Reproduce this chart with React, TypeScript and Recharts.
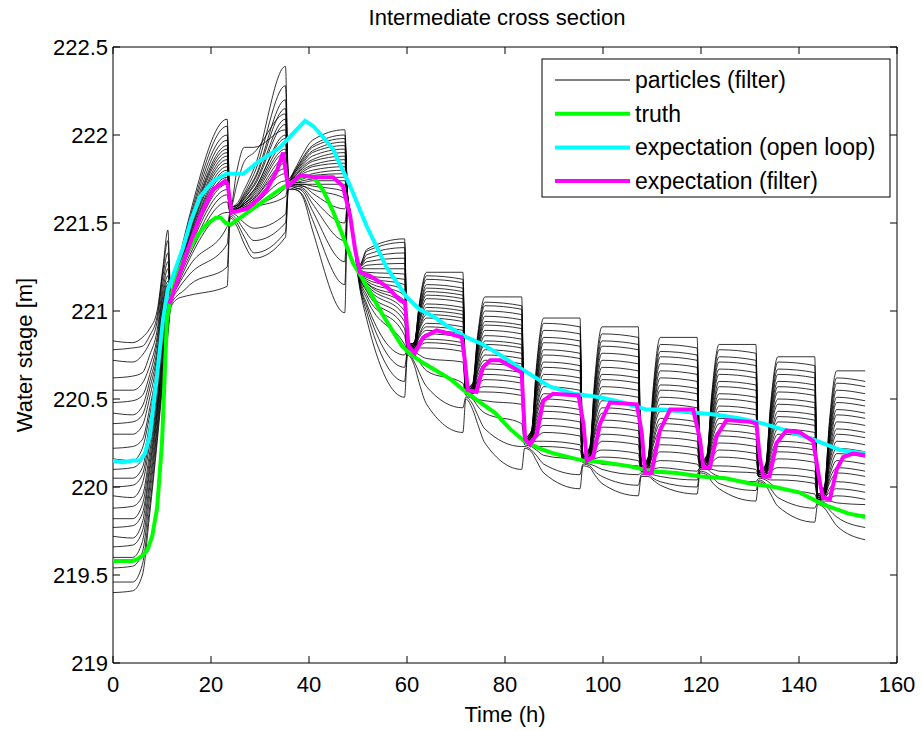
import React from "react";
import { LineChart, Line, XAxis, YAxis, ReferenceArea } from "recharts";

// plot box (px) inside the 922x730 chart
const L = 113;
const R = 897;
const T = 47;
const B = 663;
const FONT = '"Liberation Sans Narrow", "Arial Narrow", "Liberation Sans", Arial, sans-serif';

const xTicks = [0, 20, 40, 60, 80, 100, 120, 140, 160];
const yTicks = [219, 219.5, 220, 220.5, 221, 221.5, 222, 222.5];

// truth
const truthT = [0, 2, 4, 5, 6, 7, 8, 9, 10, 10.5, 11, 12, 13, 15, 17, 19, 21, 22, 23, 24, 25, 28, 31, 34, 37, 39, 41, 43, 45, 47, 49, 51, 53, 55, 57, 59, 61, 63, 66, 69, 72, 75, 78, 81, 84, 87, 90, 93, 96, 100, 105, 110, 115, 120, 125, 130, 135, 140, 145, 150, 153.5];
const truthV = [219.58, 219.58, 219.58, 219.59, 219.61, 219.64, 219.72, 219.88, 220.25, 220.6, 220.95, 221.1, 221.2, 221.33, 221.42, 221.49, 221.53, 221.53, 221.5, 221.49, 221.51, 221.57, 221.63, 221.69, 221.74, 221.77, 221.76, 221.68, 221.56, 221.42, 221.27, 221.18, 221.08, 220.98, 220.89, 220.8, 220.75, 220.71, 220.66, 220.61, 220.54, 220.48, 220.42, 220.33, 220.26, 220.22, 220.19, 220.17, 220.15, 220.14, 220.12, 220.09, 220.08, 220.06, 220.05, 220.02, 220.0, 219.97, 219.9, 219.85, 219.83];

// expectation (open loop)
const openT = [0, 2, 4, 5.5, 6.5, 7.5, 8.9, 10.2, 11.2, 12, 14.3, 16, 17.8, 20.5, 23.2, 26.6, 29.3, 32, 34.1, 36.8, 39.2, 40.9, 42.5, 44.9, 48.4, 51.8, 55.8, 59.9, 62.5, 65.3, 68.5, 72.2, 75.5, 79, 84, 89.2, 94, 99.4, 104, 108.9, 112, 116.3, 119.5, 123.2, 128, 132.7, 137.5, 142.9, 148.4, 153.5];
const openV = [220.15, 220.14, 220.15, 220.15, 220.19, 220.29, 220.61, 220.95, 221.12, 221.18, 221.36, 221.52, 221.65, 221.74, 221.78, 221.78, 221.84, 221.89, 221.93, 222.01, 222.08, 222.05, 222.0, 221.92, 221.71, 221.48, 221.25, 221.08, 221.01, 220.97, 220.91, 220.85, 220.81, 220.75, 220.66, 220.57, 220.53, 220.51, 220.48, 220.44, 220.44, 220.43, 220.42, 220.41, 220.39, 220.36, 220.32, 220.27, 220.21, 220.19];

// expectation (filter)
const filtT = [11.5, 12, 13.2, 15, 17.8, 20.4, 22.9, 23.4, 24.2, 27.3, 29.5, 31.4, 33.5, 34.7, 35.7, 38.2, 41.6, 44.9, 46.9, 48.4, 49.4, 50.4, 52.4, 55.8, 58.6, 59.6, 60.3, 61.6, 63.3, 66, 68.8, 71.2, 71.8, 72.4, 74.2, 75.5, 77, 79, 83.4, 84.1, 85.1, 86.5, 87.8, 89.8, 95, 96, 96.7, 98, 99.4, 101.4, 106.9, 107.9, 108.6, 109.9, 111.6, 113.7, 118.4, 119.8, 120.5, 121.8, 123.2, 125.2, 130, 131.3, 132, 132.7, 134, 135.4, 137.4, 140.2, 142.9, 144.3, 144.9, 146.3, 147.7, 149, 151, 153.5];
const filtV = [221.04, 221.08, 221.18, 221.33, 221.54, 221.69, 221.74, 221.72, 221.56, 221.58, 221.63, 221.69, 221.8, 221.9, 221.71, 221.77, 221.76, 221.76, 221.71, 221.54, 221.35, 221.22, 221.2, 221.14, 221.06, 221.05, 220.8, 220.76, 220.85, 220.89, 220.87, 220.85, 220.72, 220.55, 220.54, 220.68, 220.72, 220.72, 220.65, 220.27, 220.24, 220.3, 220.49, 220.53, 220.52, 220.36, 220.15, 220.17, 220.36, 220.48, 220.47, 220.31, 220.08, 220.08, 220.32, 220.44, 220.44, 220.27, 220.11, 220.11, 220.29, 220.38, 220.37, 220.36, 220.17, 220.06, 220.06, 220.25, 220.32, 220.31, 220.26, 220.02, 219.94, 219.93, 220.1, 220.17, 220.19, 220.18];

// particles (filter): one row per time, 24 particles per row, one block per assimilation window
const seg0T = [0, 4, 6, 7.5, 9, 10.2, 11.2];
const seg0 = [
  [220.83, 220.78, 220.72, 220.62, 220.55, 220.48, 220.42, 220.36, 220.30, 220.22, 220.16, 220.10, 220.05, 220.00, 219.95, 219.88, 219.82, 219.77, 219.72, 219.66, 219.60, 219.54, 219.46, 219.40],
  [220.82, 220.79, 220.71, 220.63, 220.55, 220.49, 220.41, 220.37, 220.30, 220.23, 220.15, 220.11, 220.05, 220.01, 219.94, 219.89, 219.82, 219.78, 219.71, 219.67, 219.60, 219.55, 219.46, 219.41],
  [220.85, 220.80, 220.75, 220.65, 220.59, 220.52, 220.46, 220.41, 220.35, 220.27, 220.22, 220.16, 220.11, 220.07, 220.02, 219.95, 219.90, 219.85, 219.80, 219.75, 219.69, 219.63, 219.56, 219.50],
  [220.90, 220.86, 220.82, 220.75, 220.69, 220.64, 220.60, 220.56, 220.51, 220.45, 220.41, 220.36, 220.33, 220.29, 220.25, 220.20, 220.16, 220.12, 220.09, 220.04, 220.00, 219.95, 219.89, 219.85],
  [221.00, 220.97, 220.94, 220.89, 220.85, 220.82, 220.78, 220.75, 220.72, 220.68, 220.65, 220.62, 220.59, 220.56, 220.54, 220.50, 220.47, 220.44, 220.42, 220.39, 220.35, 220.32, 220.28, 220.25],
  [221.25, 221.23, 221.20, 221.16, 221.12, 221.09, 221.06, 221.04, 221.01, 220.97, 220.95, 220.92, 220.90, 220.87, 220.85, 220.82, 220.79, 220.77, 220.75, 220.72, 220.69, 220.66, 220.63, 220.60],
  [221.46, 221.40, 221.33, 221.28, 221.24, 221.20, 221.17, 221.15, 221.13, 221.11, 221.09, 221.07, 221.06, 221.05, 221.04, 221.03, 221.02, 221.00, 220.98, 220.96, 220.94, 220.92, 220.89, 220.86],
];
const seg1T = [11.8, 13.2, 14.2, 15.7, 23.3];
const seg1 = [
  [221.08, 221.08, 221.08, 221.08, 221.07, 221.07, 221.07, 221.07, 221.07, 221.07, 221.06, 221.06, 221.06, 221.06, 221.06, 221.06, 221.05, 221.05, 221.05, 221.05, 221.05, 221.04, 221.03, 221.02],
  [221.26, 221.25, 221.24, 221.23, 221.23, 221.22, 221.22, 221.22, 221.21, 221.21, 221.20, 221.20, 221.20, 221.19, 221.19, 221.18, 221.18, 221.17, 221.16, 221.15, 221.14, 221.12, 221.09, 221.07],
  [221.38, 221.37, 221.35, 221.34, 221.34, 221.33, 221.32, 221.32, 221.31, 221.30, 221.30, 221.29, 221.28, 221.28, 221.27, 221.26, 221.26, 221.25, 221.23, 221.21, 221.19, 221.16, 221.11, 221.08],
  [221.55, 221.53, 221.51, 221.49, 221.48, 221.47, 221.46, 221.45, 221.44, 221.43, 221.42, 221.41, 221.40, 221.39, 221.38, 221.37, 221.36, 221.34, 221.32, 221.30, 221.26, 221.21, 221.15, 221.09],
  [222.09, 222.05, 222.00, 221.97, 221.94, 221.92, 221.90, 221.88, 221.86, 221.84, 221.82, 221.80, 221.78, 221.76, 221.74, 221.72, 221.69, 221.66, 221.62, 221.56, 221.48, 221.38, 221.25, 221.14],
];
const seg2T = [23.9, 25.3, 26.8, 28.8, 35.2];
const seg2 = [
  [221.59, 221.59, 221.59, 221.59, 221.58, 221.58, 221.58, 221.58, 221.58, 221.58, 221.57, 221.57, 221.57, 221.57, 221.57, 221.57, 221.56, 221.56, 221.56, 221.56, 221.56, 221.55, 221.54, 221.53],
  [221.61, 221.60, 221.60, 221.60, 221.72, 221.59, 221.59, 221.80, 221.59, 221.58, 221.58, 221.58, 221.58, 221.58, 221.58, 221.58, 221.57, 221.57, 221.57, 221.57, 221.54, 221.52, 221.50, 221.48],
  [221.69, 221.67, 221.66, 221.65, 221.85, 221.64, 221.64, 221.93, 221.63, 221.62, 221.62, 221.61, 221.61, 221.61, 221.60, 221.60, 221.59, 221.59, 221.58, 221.57, 221.50, 221.46, 221.42, 221.38],
  [221.81, 221.78, 221.75, 221.74, 221.90, 221.72, 221.71, 221.93, 221.69, 221.69, 221.68, 221.67, 221.66, 221.65, 221.64, 221.64, 221.63, 221.61, 221.60, 221.59, 221.47, 221.40, 221.33, 221.30],
  [222.39, 222.28, 222.20, 222.15, 222.12, 222.09, 222.06, 222.03, 222.00, 221.98, 221.95, 221.92, 221.90, 221.87, 221.84, 221.81, 221.78, 221.74, 221.70, 221.65, 221.55, 221.50, 221.45, 221.42],
];
const seg3T = [35.8, 37.2, 38.7, 40.7, 47.3];
const seg3 = [
  [221.75, 221.75, 221.75, 221.75, 221.74, 221.74, 221.74, 221.74, 221.74, 221.74, 221.73, 221.73, 221.73, 221.73, 221.73, 221.73, 221.72, 221.72, 221.72, 221.72, 221.72, 221.71, 221.70, 221.69],
  [221.81, 221.80, 221.80, 221.79, 221.79, 221.78, 221.77, 221.77, 221.76, 221.76, 221.75, 221.74, 221.74, 221.73, 221.73, 221.72, 221.72, 221.72, 221.71, 221.71, 221.70, 221.70, 221.69, 221.69],
  [221.89, 221.87, 221.86, 221.85, 221.84, 221.83, 221.82, 221.81, 221.80, 221.79, 221.78, 221.76, 221.75, 221.74, 221.73, 221.72, 221.72, 221.71, 221.71, 221.70, 221.69, 221.68, 221.66, 221.65],
  [221.97, 221.94, 221.93, 221.91, 221.90, 221.88, 221.86, 221.85, 221.83, 221.82, 221.80, 221.78, 221.77, 221.75, 221.74, 221.72, 221.71, 221.69, 221.67, 221.64, 221.61, 221.57, 221.52, 221.46],
  [222.03, 222.00, 221.98, 221.96, 221.94, 221.92, 221.90, 221.88, 221.86, 221.84, 221.82, 221.80, 221.78, 221.76, 221.74, 221.72, 221.68, 221.64, 221.58, 221.50, 221.40, 221.28, 221.15, 220.99],
];
const seg4T = [47.9, 49.3, 50.3, 51.8, 59.5];
const seg4 = [
  [221.65, 221.65, 221.65, 221.65, 221.64, 221.64, 221.64, 221.64, 221.64, 221.64, 221.63, 221.63, 221.63, 221.63, 221.63, 221.63, 221.62, 221.62, 221.62, 221.62, 221.62, 221.61, 221.60, 221.59],
  [221.40, 221.40, 221.40, 221.40, 221.39, 221.39, 221.39, 221.39, 221.39, 221.39, 221.38, 221.38, 221.38, 221.38, 221.38, 221.38, 221.37, 221.37, 221.37, 221.37, 221.37, 221.36, 221.35, 221.34],
  [221.26, 221.26, 221.25, 221.25, 221.25, 221.24, 221.24, 221.24, 221.23, 221.23, 221.23, 221.22, 221.22, 221.22, 221.21, 221.21, 221.20, 221.20, 221.19, 221.18, 221.17, 221.16, 221.15, 221.14],
  [221.35, 221.34, 221.32, 221.30, 221.28, 221.26, 221.24, 221.22, 221.20, 221.19, 221.18, 221.17, 221.16, 221.16, 221.15, 221.14, 221.12, 221.11, 221.09, 221.07, 221.04, 221.02, 220.99, 220.95],
  [221.41, 221.39, 221.36, 221.33, 221.30, 221.27, 221.24, 221.21, 221.18, 221.15, 221.12, 221.09, 221.06, 221.03, 221.00, 220.97, 220.94, 220.90, 220.86, 220.81, 220.75, 220.68, 220.60, 220.51],
];
const seg5T = [60.1, 61.5, 62.5, 64.0, 71.4];
const seg5 = [
  [220.81, 220.81, 220.81, 220.81, 220.80, 220.80, 220.80, 220.80, 220.80, 220.80, 220.79, 220.79, 220.79, 220.79, 220.79, 220.79, 220.78, 220.78, 220.78, 220.78, 220.78, 220.77, 220.76, 220.75],
  [220.82, 220.82, 220.82, 220.82, 220.82, 220.81, 220.81, 220.81, 220.81, 220.80, 220.80, 220.80, 220.80, 220.80, 220.79, 220.79, 220.79, 220.79, 220.78, 220.78, 220.77, 220.74, 220.71, 220.69],
  [221.04, 221.03, 221.02, 221.00, 220.99, 220.98, 220.97, 220.95, 220.94, 220.93, 220.91, 220.90, 220.89, 220.87, 220.86, 220.85, 220.83, 220.82, 220.80, 220.79, 220.75, 220.71, 220.65, 220.59],
  [221.22, 221.20, 221.18, 221.15, 221.13, 221.11, 221.09, 221.07, 221.04, 221.02, 221.00, 220.98, 220.96, 220.93, 220.91, 220.89, 220.87, 220.84, 220.82, 220.79, 220.73, 220.66, 220.57, 220.47],
  [221.22, 221.18, 221.16, 221.13, 221.11, 221.09, 221.07, 221.05, 221.02, 221.00, 220.98, 220.96, 220.94, 220.91, 220.89, 220.87, 220.85, 220.82, 220.80, 220.77, 220.71, 220.59, 220.45, 220.31],
];
const seg6T = [72.0, 73.4, 74.4, 75.9, 83.4];
const seg6 = [
  [220.56, 220.56, 220.56, 220.56, 220.55, 220.55, 220.55, 220.55, 220.55, 220.55, 220.54, 220.54, 220.54, 220.54, 220.54, 220.54, 220.53, 220.53, 220.53, 220.53, 220.53, 220.52, 220.51, 220.50],
  [220.59, 220.58, 220.58, 220.58, 220.57, 220.57, 220.57, 220.57, 220.56, 220.56, 220.56, 220.56, 220.55, 220.55, 220.55, 220.54, 220.54, 220.54, 220.53, 220.53, 220.52, 220.50, 220.47, 220.44],
  [220.86, 220.84, 220.83, 220.81, 220.79, 220.78, 220.76, 220.75, 220.73, 220.71, 220.70, 220.68, 220.66, 220.65, 220.63, 220.61, 220.60, 220.58, 220.56, 220.54, 220.50, 220.46, 220.41, 220.36],
  [221.08, 221.05, 221.03, 221.00, 220.97, 220.94, 220.92, 220.89, 220.86, 220.83, 220.81, 220.78, 220.75, 220.72, 220.70, 220.67, 220.64, 220.61, 220.57, 220.54, 220.49, 220.42, 220.33, 220.25],
  [221.08, 221.03, 221.01, 220.98, 220.95, 220.92, 220.90, 220.87, 220.84, 220.81, 220.79, 220.76, 220.73, 220.70, 220.68, 220.65, 220.62, 220.59, 220.55, 220.52, 220.47, 220.36, 220.23, 220.10],
];
const seg7T = [84.0, 85.4, 86.4, 87.9, 95.3];
const seg7 = [
  [220.28, 220.28, 220.28, 220.28, 220.27, 220.27, 220.27, 220.27, 220.27, 220.27, 220.26, 220.26, 220.26, 220.26, 220.26, 220.26, 220.25, 220.25, 220.25, 220.25, 220.25, 220.24, 220.23, 220.22],
  [220.32, 220.32, 220.31, 220.31, 220.31, 220.30, 220.30, 220.30, 220.29, 220.29, 220.29, 220.28, 220.28, 220.28, 220.27, 220.27, 220.26, 220.26, 220.26, 220.25, 220.24, 220.23, 220.21, 220.20],
  [220.68, 220.66, 220.63, 220.61, 220.59, 220.57, 220.55, 220.53, 220.51, 220.49, 220.46, 220.44, 220.42, 220.40, 220.38, 220.36, 220.34, 220.31, 220.28, 220.26, 220.23, 220.21, 220.18, 220.15],
  [220.96, 220.93, 220.89, 220.85, 220.82, 220.78, 220.75, 220.71, 220.68, 220.64, 220.61, 220.57, 220.53, 220.50, 220.46, 220.43, 220.39, 220.35, 220.31, 220.26, 220.23, 220.18, 220.13, 220.08],
  [220.96, 220.91, 220.87, 220.83, 220.80, 220.76, 220.73, 220.69, 220.66, 220.62, 220.59, 220.55, 220.51, 220.48, 220.44, 220.41, 220.37, 220.33, 220.29, 220.24, 220.21, 220.15, 220.07, 219.99],
];
const seg8T = [95.9, 97.3, 98.3, 99.8, 107.2];
const seg8 = [
  [220.18, 220.18, 220.18, 220.18, 220.17, 220.17, 220.17, 220.17, 220.17, 220.17, 220.16, 220.16, 220.16, 220.16, 220.16, 220.16, 220.15, 220.15, 220.15, 220.15, 220.15, 220.14, 220.13, 220.12],
  [220.23, 220.22, 220.22, 220.22, 220.21, 220.21, 220.20, 220.20, 220.20, 220.19, 220.19, 220.18, 220.18, 220.18, 220.17, 220.17, 220.17, 220.16, 220.16, 220.15, 220.14, 220.13, 220.12, 220.11],
  [220.61, 220.58, 220.56, 220.54, 220.52, 220.49, 220.47, 220.45, 220.42, 220.40, 220.38, 220.36, 220.33, 220.31, 220.29, 220.26, 220.24, 220.21, 220.19, 220.16, 220.14, 220.12, 220.09, 220.07],
  [220.91, 220.87, 220.83, 220.80, 220.76, 220.72, 220.68, 220.64, 220.61, 220.57, 220.53, 220.49, 220.45, 220.42, 220.38, 220.34, 220.30, 220.26, 220.21, 220.17, 220.13, 220.10, 220.06, 220.02],
  [220.91, 220.85, 220.81, 220.78, 220.74, 220.70, 220.66, 220.62, 220.59, 220.55, 220.51, 220.47, 220.43, 220.40, 220.36, 220.32, 220.28, 220.24, 220.19, 220.15, 220.12, 220.07, 220.01, 219.95],
];
const seg9T = [107.8, 109.2, 110.2, 111.7, 119.2];
const seg9 = [
  [220.12, 220.12, 220.12, 220.12, 220.11, 220.11, 220.11, 220.11, 220.11, 220.11, 220.10, 220.10, 220.10, 220.10, 220.10, 220.10, 220.09, 220.09, 220.09, 220.09, 220.09, 220.08, 220.07, 220.06],
  [220.17, 220.16, 220.16, 220.16, 220.15, 220.15, 220.14, 220.14, 220.14, 220.13, 220.13, 220.12, 220.12, 220.12, 220.11, 220.11, 220.11, 220.10, 220.10, 220.09, 220.09, 220.08, 220.07, 220.06],
  [220.55, 220.52, 220.50, 220.48, 220.46, 220.43, 220.41, 220.39, 220.36, 220.34, 220.32, 220.30, 220.27, 220.25, 220.23, 220.20, 220.18, 220.15, 220.13, 220.10, 220.08, 220.07, 220.05, 220.04],
  [220.85, 220.81, 220.77, 220.74, 220.70, 220.66, 220.62, 220.58, 220.55, 220.51, 220.47, 220.43, 220.39, 220.36, 220.32, 220.28, 220.24, 220.20, 220.15, 220.11, 220.08, 220.06, 220.03, 220.01],
  [220.85, 220.79, 220.75, 220.72, 220.68, 220.64, 220.60, 220.56, 220.53, 220.49, 220.45, 220.41, 220.37, 220.34, 220.30, 220.26, 220.22, 220.18, 220.13, 220.09, 220.07, 220.04, 220.00, 219.96],
];
const seg10T = [119.8, 121.2, 122.2, 123.7, 131.2];
const seg10 = [
  [220.14, 220.14, 220.14, 220.14, 220.13, 220.13, 220.13, 220.13, 220.13, 220.13, 220.12, 220.12, 220.12, 220.12, 220.12, 220.12, 220.11, 220.11, 220.11, 220.11, 220.11, 220.10, 220.09, 220.08],
  [220.18, 220.18, 220.17, 220.17, 220.17, 220.16, 220.16, 220.16, 220.15, 220.15, 220.15, 220.14, 220.14, 220.14, 220.13, 220.13, 220.12, 220.12, 220.12, 220.11, 220.10, 220.10, 220.08, 220.07],
  [220.53, 220.51, 220.49, 220.47, 220.45, 220.43, 220.40, 220.38, 220.36, 220.34, 220.32, 220.30, 220.28, 220.26, 220.24, 220.22, 220.19, 220.17, 220.14, 220.12, 220.10, 220.08, 220.06, 220.03],
  [220.81, 220.78, 220.74, 220.71, 220.67, 220.64, 220.60, 220.57, 220.53, 220.50, 220.46, 220.43, 220.39, 220.36, 220.32, 220.29, 220.25, 220.21, 220.17, 220.12, 220.09, 220.06, 220.02, 219.99],
  [220.81, 220.76, 220.72, 220.69, 220.65, 220.62, 220.58, 220.55, 220.51, 220.48, 220.44, 220.41, 220.37, 220.34, 220.30, 220.27, 220.23, 220.19, 220.15, 220.10, 220.08, 220.03, 219.98, 219.92],
];
const seg11T = [131.8, 133.2, 134.2, 135.7, 143.2];
const seg11 = [
  [220.09, 220.09, 220.09, 220.09, 220.08, 220.08, 220.08, 220.08, 220.08, 220.08, 220.07, 220.07, 220.07, 220.07, 220.07, 220.07, 220.06, 220.06, 220.06, 220.06, 220.06, 220.05, 220.04, 220.03],
  [220.13, 220.12, 220.12, 220.12, 220.11, 220.11, 220.11, 220.10, 220.10, 220.10, 220.09, 220.09, 220.09, 220.08, 220.08, 220.08, 220.07, 220.07, 220.07, 220.06, 220.05, 220.04, 220.02, 220.01],
  [220.47, 220.45, 220.43, 220.41, 220.39, 220.37, 220.35, 220.33, 220.31, 220.28, 220.26, 220.24, 220.22, 220.20, 220.18, 220.16, 220.14, 220.12, 220.09, 220.07, 220.04, 220.02, 219.99, 219.96],
  [220.74, 220.71, 220.67, 220.64, 220.60, 220.57, 220.54, 220.50, 220.47, 220.43, 220.40, 220.37, 220.33, 220.30, 220.26, 220.23, 220.20, 220.16, 220.11, 220.07, 220.04, 219.99, 219.94, 219.89],
  [220.74, 220.69, 220.65, 220.62, 220.58, 220.55, 220.52, 220.48, 220.45, 220.41, 220.38, 220.35, 220.31, 220.28, 220.24, 220.21, 220.18, 220.14, 220.09, 220.05, 220.02, 219.96, 219.88, 219.80],
];
const seg12T = [143.8, 145.2, 146.2, 147.7, 153.5];
const seg12 = [
  [219.96, 219.96, 219.96, 219.96, 219.95, 219.95, 219.95, 219.95, 219.95, 219.95, 219.94, 219.94, 219.94, 219.94, 219.94, 219.94, 219.93, 219.93, 219.93, 219.93, 219.93, 219.92, 219.91, 219.90],
  [220.00, 220.00, 220.00, 219.99, 219.99, 219.99, 219.98, 219.98, 219.97, 219.97, 219.97, 219.96, 219.96, 219.96, 219.95, 219.95, 219.95, 219.94, 219.94, 219.93, 219.92, 219.91, 219.90, 219.88],
  [220.37, 220.35, 220.32, 220.30, 220.28, 220.26, 220.24, 220.22, 220.19, 220.17, 220.15, 220.13, 220.11, 220.08, 220.06, 220.04, 220.02, 219.99, 219.97, 219.94, 219.92, 219.89, 219.87, 219.84],
  [220.66, 220.62, 220.59, 220.55, 220.51, 220.48, 220.44, 220.41, 220.37, 220.33, 220.30, 220.26, 220.22, 220.19, 220.15, 220.11, 220.08, 220.03, 219.99, 219.95, 219.91, 219.87, 219.83, 219.78],
  [220.66, 220.60, 220.57, 220.53, 220.49, 220.46, 220.42, 220.39, 220.35, 220.31, 220.28, 220.24, 220.20, 220.17, 220.13, 220.09, 220.06, 220.01, 219.97, 219.93, 219.90, 219.84, 219.77, 219.70],
];

const segTimes = [seg0T, seg1T, seg2T, seg3T, seg4T, seg5T, seg6T, seg7T, seg8T, seg9T, seg10T, seg11T, seg12T];
const segRows = [seg0, seg1, seg2, seg3, seg4, seg5, seg6, seg7, seg8, seg9, seg10, seg11, seg12];
const N_PART = 24;

const particleData: any[] = [];
segTimes.forEach((ts, k) => {
  ts.forEach((t, i) => {
    const row: any = { t };
    segRows[k][i].forEach((v, p) => {
      row["p" + p] = v;
    });
    particleData.push(row);
  });
});

const toRows = (ts: number[], vs: number[]) => ts.map((t, i) => ({ t, v: vs[i] }));
const truthData = toRows(truthT, truthV);
const openData = toRows(openT, openV);
const filtData = toRows(filtT, filtV);

const XTick = (props: any) => {
  const { x, payload } = props;
  return (
    <g>
      <line x1={x} x2={x} y1={B} y2={B - 7} stroke="#000" strokeWidth={1} />
      <line x1={x} x2={x} y1={T} y2={T + 7} stroke="#000" strokeWidth={1} />
      <text x={x} y={692} textAnchor="middle" fontSize={22} fontFamily={FONT} fill="#000">
        {payload.value}
      </text>
    </g>
  );
};

const YTick = (props: any) => {
  const { y, payload } = props;
  return (
    <g>
      <line x1={L} x2={L + 7} y1={y} y2={y} stroke="#000" strokeWidth={1} />
      <line x1={R - 7} x2={R} y1={y} y2={y} stroke="#000" strokeWidth={1} />
      <text x={108} y={y + 8} textAnchor="end" fontSize={22} fontFamily={FONT} fill="#000">
        {payload.value}
      </text>
    </g>
  );
};

const legendRows = [
  { label: "particles (filter)", color: "#000", width: 1 },
  { label: "truth", color: "#00ff00", width: 4 },
  { label: "expectation (open loop)", color: "#00ffff", width: 4 },
  { label: "expectation (filter)", color: "#ff00ff", width: 4 },
];

export default function App() {
  return (
    <div style={{ position: "absolute", left: 0, top: 0, width: 922, height: 730, background: "#fff" }}>
      <LineChart width={922} height={730} data={particleData} margin={{ top: T, right: 922 - R, bottom: 730 - B - 30, left: L - 60 }}>
        <XAxis
          dataKey="t"
          type="number"
          domain={[0, 160]}
          ticks={xTicks}
          interval={0}
          tick={XTick}
          tickLine={false}
          axisLine={false}
          height={30}
          allowDataOverflow
        />
        <YAxis
          type="number"
          domain={[219, 222.5]}
          ticks={yTicks}
          interval={0}
          tick={YTick}
          tickLine={false}
          axisLine={false}
          width={60}
          allowDataOverflow
        />
        {Array.from({ length: N_PART }, (_, p) => (
          <Line
            key={p}
            dataKey={"p" + p}
            type="monotone"
            stroke="#000"
            strokeWidth={0.8}
            dot={false}
            activeDot={false}
            isAnimationActive={false}
          />
        ))}
        <Line data={truthData} dataKey="v" type="linear" stroke="#00ff00" strokeWidth={4} dot={false} isAnimationActive={false} />
        <Line data={openData} dataKey="v" type="linear" stroke="#00ffff" strokeWidth={4} dot={false} isAnimationActive={false} />
        <Line data={filtData} dataKey="v" type="linear" stroke="#ff00ff" strokeWidth={4} dot={false} isAnimationActive={false} />
        <ReferenceArea x1={0} x2={160} y1={219} y2={222.5} fill="none" fillOpacity={0} stroke="#000" strokeWidth={1} />
      </LineChart>
      <svg width={922} height={730} style={{ position: "absolute", left: 0, top: 0, pointerEvents: "none" }}>
        <text x={497} y={25} textAnchor="middle" fontSize={22} fontFamily={FONT} fill="#000">
          Intermediate cross section
        </text>
        <text x={505} y={722} textAnchor="middle" fontSize={22} fontFamily={FONT} fill="#000">
          Time (h)
        </text>
        <text x={0} y={0} transform="translate(32,355) rotate(-90)" textAnchor="middle" fontSize={22} fontFamily={FONT} fill="#000">
          Water stage [m]
        </text>
        <rect x={542} y={59} width={348} height={138} fill="#fff" stroke="#000" strokeWidth={1} />
        {legendRows.map((r, i) => (
          <g key={r.label}>
            <line x1={555} x2={630} y1={80 + i * 33.7} y2={80 + i * 33.7} stroke={r.color} strokeWidth={r.width} />
            <text x={635} y={80 + i * 33.7 + 8} fontSize={23} fontFamily={FONT} fill="#000">
              {r.label}
            </text>
          </g>
        ))}
      </svg>
    </div>
  );
}
